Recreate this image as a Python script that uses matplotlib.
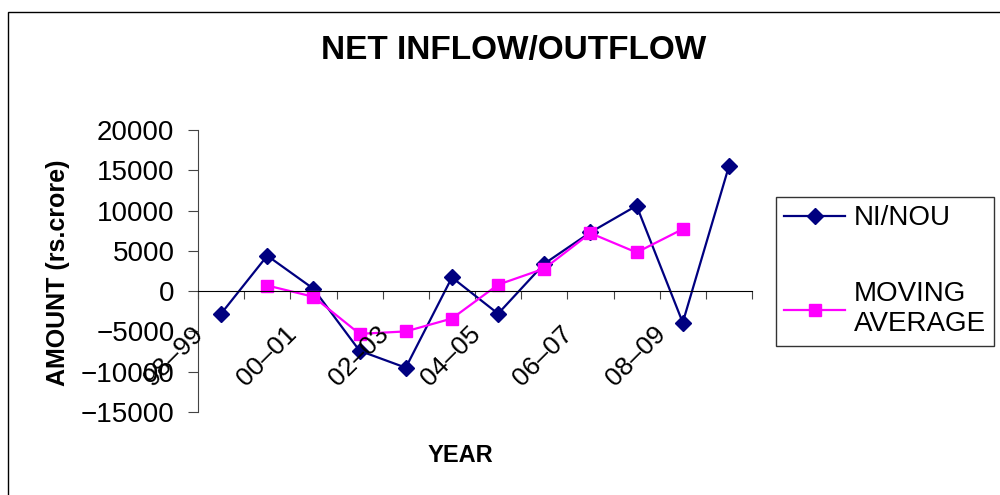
import matplotlib
matplotlib.use("Agg")
import matplotlib.pyplot as plt
import matplotlib.transforms as mtransforms
from matplotlib.patches import Rectangle

plt.rcParams['font.family'] = ['Liberation Sans', 'DejaVu Sans']

years = ['98–99', '99–00', '00–01', '01–02', '02–03', '03–04',
         '04–05', '05–06', '06–07', '07–08', '08–09', '09–10']
ni_nou = [-2800, 4400, 300, -7400, -9500, 1700,
          -2800, 3400, 7300, 10600, -3900, 15500]
# moving average has no value for the first and last year
ma_years = years[1:11]
moving_avg = [700, -700, -5300, -5000, -3400, 800, 2800, 7200, 4800, 7700]

fig = plt.figure(figsize=(10, 4.95), dpi=100)
# outer chart border (runs off the right and bottom edges)
fig.patches.append(Rectangle((0.008, -0.1), 1.2, 1.1 - 12/495, transform=fig.transFigure,
                             fill=False, edgecolor='black', linewidth=1))

ax = fig.add_axes([0.198, 1 - 412/495, 0.554, (412 - 130)/495])

x = list(range(len(years)))
xm = [years.index(y) for y in ma_years]
ax.plot(x, ni_nou, color='#000080', marker='D', markersize=8, linewidth=1.6, label='NI/NOU')
ax.plot(xm, moving_avg, color='#FF00FF', marker='s', markersize=9, linewidth=1.6,
        label='MOVING\nAVERAGE')

ax.set_xlim(-0.5, len(years) - 0.5)
ax.set_ylim(-15000, 20000)
ax.set_yticks(range(-15000, 20001, 5000))
ax.tick_params(axis='y', direction='out', length=7, labelsize=20, pad=10, color='#444444')

ax.spines['top'].set_visible(False)
ax.spines['right'].set_visible(False)
ax.spines['bottom'].set_position(('data', 0))
ax.spines['left'].set_color('#444444')
ax.set_xticks([i - 0.5 for i in range(len(years) + 1)])
ax.set_xticklabels([])
ax.tick_params(axis='x', direction='out', length=6, color='#444444')

# rotated category labels, every second year
off = mtransforms.ScaledTranslation(-0.21, -0.39, fig.dpi_scale_trans)
for i in range(0, len(years), 2):
    ax.text(i, 0, years[i], transform=ax.transData + off, rotation=45,
            rotation_mode='anchor', ha='right', va='center', fontsize=19)

fig.text(0.514, 1 - 50/495, 'NET INFLOW/OUTFLOW', ha='center', va='center',
         fontsize=24, fontweight='bold')
fig.text(0.46, 1 - 456/495, 'YEAR', ha='center', va='center', fontsize=17, fontweight='bold')
fig.text(0.058, 1 - 273/495, 'AMOUNT (rs.crore)', ha='center', va='center', rotation=90,
         fontsize=18, fontweight='bold')

leg = ax.legend(loc='upper left', bbox_to_anchor=(0.776, 1 - 197/495),
                bbox_transform=fig.transFigure, fontsize=20, frameon=True, fancybox=False,
                edgecolor='black', borderaxespad=0, borderpad=0.3, labelspacing=1.8,
                handlelength=2.2, handletextpad=0.3)
leg.get_frame().set_linewidth(1)

fig.savefig('out.png', dpi=100)
